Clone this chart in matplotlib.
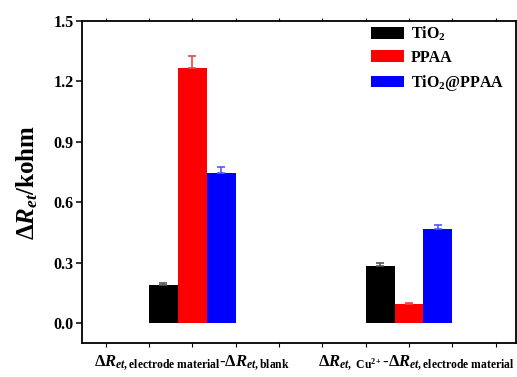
import numpy as np
import matplotlib
matplotlib.use("Agg")
from matplotlib import pyplot as plt

plt.rcParams['font.family'] = 'Liberation Serif'
plt.rcParams['font.weight'] = 'bold'
plt.rcParams['mathtext.fontset'] = 'custom'
plt.rcParams['mathtext.rm'] = 'Liberation Serif:bold'
plt.rcParams['mathtext.it'] = 'Liberation Serif:bold:italic'
plt.rcParams['mathtext.bf'] = 'Liberation Serif:bold'

# data
series = ["TiO$_2$", "PPAA", "TiO$_2$@PPAA"]
colors = ["#000000", "#ff0000", "#0000ff"]
err_colors = ["#555555", "#ee4444", "#5555ff"]
group_pos = [2, 7]
group_labels = [r"$\Delta R_{et,\mathrm{electrode\ material}}$-$\Delta R_{et,\mathrm{blank}}$",
                r"$\Delta R_{et,\ \mathrm{Cu}^{2+}}$-$\Delta R_{et,\mathrm{electrode\ material}}$"]
label_shift = [0, 0.18]
values = [[0.19, 0.284],
          [1.269, 0.094],
          [0.744, 0.468]]
errors = [[0.008, 0.013],
          [0.06, 0.005],
          [0.033, 0.021]]

fig = plt.figure(figsize=(5.17, 3.77), dpi=100)
ax = fig.add_axes([0.1586, 0.0902, 0.8394, 0.8538])

w = 2/3
for i in range(3):
    x = np.array(group_pos) + (i - 1)*w
    ax.bar(x, values[i], width=w, color=colors[i], label=series[i], zorder=2)
    ax.errorbar(x, values[i], yerr=[np.zeros(2), errors[i]], fmt='none',
                ecolor=err_colors[i], elinewidth=1.2, capsize=3, capthick=1.2, zorder=3)

ax.set_xlim(-0.547, 9.47)
ax.set_ylim(-0.1, 1.5)
ax.set_xticks(np.arange(0, 10))
ax.set_xticklabels([])
ax.set_yticks(np.arange(0, 1.51, 0.3))
ax.set_yticklabels(["%.1f" % v for v in np.arange(0, 1.51, 0.3)])
ax.tick_params(axis='y', direction='out', length=4, width=1.1, labelsize=11.5, pad=2)
ax.tick_params(axis='x', direction='out', length=3, width=0.8)
ax.tick_params(axis='x', which='major', top=True)
for t in ax.xaxis.get_major_ticks():
    t.tick2line.set_markersize(2)
for s in ax.spines.values():
    s.set_linewidth(1.3)

for xp, dx, lab in zip(group_pos, label_shift, group_labels):
    ax.text(xp + dx, -0.06, lab, transform=ax.get_xaxis_transform(),
            ha='center', va='center', fontsize=12, fontweight='bold')

ax.set_ylabel(r"$\Delta R_{et}$/kohm", fontsize=18, fontweight='bold', labelpad=10)

ax.legend(loc='upper right', bbox_to_anchor=(1.005, 1.035), frameon=False,
          prop={'size': 11.5, 'weight': 'bold'}, handlelength=2.1, handleheight=0.75,
          labelspacing=0.45, handletextpad=0.4)

plt.savefig("out.png", dpi=100)
